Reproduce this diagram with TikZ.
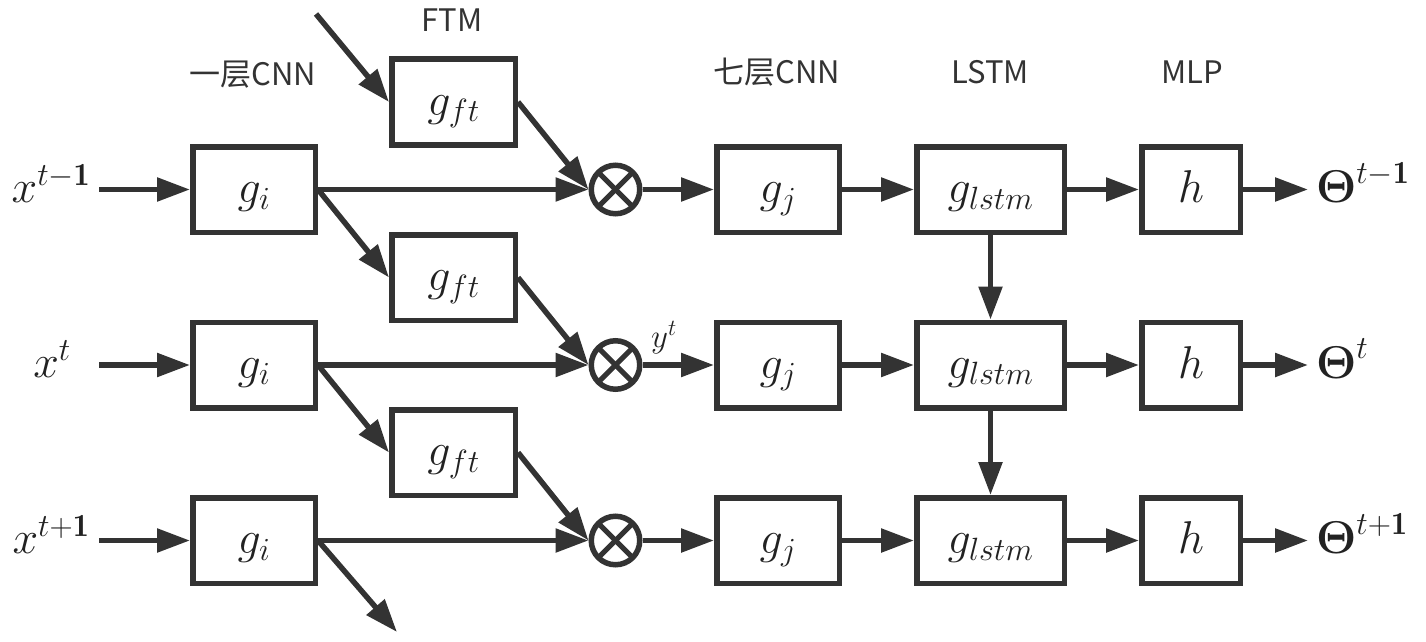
\documentclass[tikz,border=0pt]{standalone}
\usepackage{fix-cm}
\usepackage{amsmath,bm}
\usepackage{fontspec}
\newfontfamily\cjk{Noto Sans CJK SC}
\usetikzlibrary{arrows.meta}
\definecolor{ink}{HTML}{333333}
\definecolor{txt}{HTML}{222222}
\begin{document}
\begin{tikzpicture}[x=1pt,y=-1pt,
  box/.style={draw=ink, line width=5.5pt, minimum width=#1, minimum height=85.5pt,
    inner sep=0pt, text height=35pt, text depth=9pt, text=txt,
    font=\fontsize{46}{55}\selectfont},
  mul/.style={circle, draw=ink, line width=5.5pt, minimum size=48.5pt, inner sep=0pt},
  arr/.style={draw=ink, line width=5.5pt, -{Triangle[length=33pt,width=23pt]}},
  lbl/.style={font=\cjk\fontsize{31}{37}\selectfont, text=ink, anchor=base, inner sep=0pt},
  mth/.style={font=\fontsize{46}{55}\selectfont, text=txt, inner sep=0pt}]
\useasboundingbox (0,0) rectangle (1426,642);

% column labels
\node[lbl] (c1) at (253,85) {一层CNN};
\node[lbl] (ftm) at (452,32) {FTM};
\node[lbl] (c7) at (777,83) {七层CNN};
\node[lbl] (lstm) at (990,83) {LSTM};
\node[lbl] (mlp) at (1192,83) {MLP};

% boxes
\node[box=122.5pt] (gi1) at (254,189.5) {$g_i$};
\node[box=122.5pt] (gi2) at (254,365) {$g_i$};
\node[box=122.5pt] (gi3) at (254,540.5) {$g_i$};
\node[box=123.5pt] (ft1) at (453.5,102) {$g_{ft}$};
\node[box=123.5pt] (ft2) at (453.5,277.5) {$g_{ft}$};
\node[box=123.5pt] (ft3) at (453.5,452.5) {$g_{ft}$};
\node[mul] (m1) at (615.5,189.5) {};
\node[mul] (m2) at (615.5,365) {};
\node[mul] (m3) at (615.5,540.5) {};
\node[box=122.5pt] (gj1) at (778,189.5) {$g_j$};
\node[box=122.5pt] (gj2) at (778,365) {$g_j$};
\node[box=122.5pt] (gj3) at (778,540.5) {$g_j$};
\node[box=147.5pt] (ls1) at (990.5,189.5) {$g_{lstm}$};
\node[box=147.5pt] (ls2) at (990.5,365) {$g_{lstm}$};
\node[box=147.5pt] (ls3) at (990.5,540.5) {$g_{lstm}$};
\node[box=98.5pt] (h1) at (1191,189.5) {$h$};
\node[box=98.5pt] (h2) at (1191,365) {$h$};
\node[box=98.5pt] (h3) at (1191,540.5) {$h$};

% crosses in multipliers
\foreach \m in {m1,m2,m3}{
  \draw[ink, line width=5pt, shorten <=3pt, shorten >=3pt] (\m.45) -- (\m.225);
  \draw[ink, line width=5pt, shorten <=3pt, shorten >=3pt] (\m.135) -- (\m.315);
}

% input / output labels
\node[mth, anchor=base] (x1) at (51,202.5) {$x^{t-\mathbf{1}}$};
\node[mth, anchor=base] (x2) at (52,377) {$x^{t}$};
\node[mth, anchor=base] (x3) at (51,553.5) {$x^{t+\mathbf{1}}$};
\node[mth, anchor=base west] (o1) at (1316,202.5) {$\bm{\Theta}^{t-\mathbf{1}}$};
\node[mth, anchor=base west] (o2) at (1316,378) {$\bm{\Theta}^{t}$};
\node[mth, anchor=base west] (o3) at (1316,553.5) {$\bm{\Theta}^{t+\mathbf{1}}$};
\node[font=\fontsize{33}{40}\selectfont, text=txt, anchor=base west, inner sep=0pt] (yt) at (651,347) {$y^t$};

% free ends
\coordinate (in1) at (99,189.5);
\coordinate (in2) at (99,365);
\coordinate (in3) at (99,540.5);
\coordinate (out1) at (1308,189.5);
\coordinate (out2) at (1308,365);
\coordinate (out3) at (1308,540.5);
\coordinate (top) at (316,14);
\coordinate (bot) at (397,632);

% connectors
\draw[arr] (in1) -- (gi1.west);
\draw[arr] (in2) -- (gi2.west);
\draw[arr] (in3) -- (gi3.west);
\draw[arr] (gi1.east) -- (m1.west);
\draw[arr] (gi2.east) -- (m2.west);
\draw[arr] (gi3.east) -- (m3.west);
\draw[arr] (top) -- (ft1.west);
\draw[arr] (gi1.east) -- (ft2.west);
\draw[arr] (gi2.east) -- (ft3.west);
\draw[arr] (gi3.east) -- (bot);
\draw[arr] (ft1.east) -- (m1.west);
\draw[arr] (ft2.east) -- (m2.west);
\draw[arr] (ft3.east) -- (m3.west);
\draw[arr] (m1.east) -- (gj1.west);
\draw[arr] (m2.east) -- (gj2.west);
\draw[arr] (m3.east) -- (gj3.west);
\draw[arr] (gj1.east) -- (ls1.west);
\draw[arr] (gj2.east) -- (ls2.west);
\draw[arr] (gj3.east) -- (ls3.west);
\draw[arr] (ls1.east) -- (h1.west);
\draw[arr] (ls2.east) -- (h2.west);
\draw[arr] (ls3.east) -- (h3.west);
\draw[arr] (h1.east) -- (out1);
\draw[arr] (h2.east) -- (out2);
\draw[arr] (h3.east) -- (out3);
\draw[arr] (ls1.south) -- (ls2.north);
\draw[arr] (ls2.south) -- (ls3.north);
\end{tikzpicture}
\end{document}
